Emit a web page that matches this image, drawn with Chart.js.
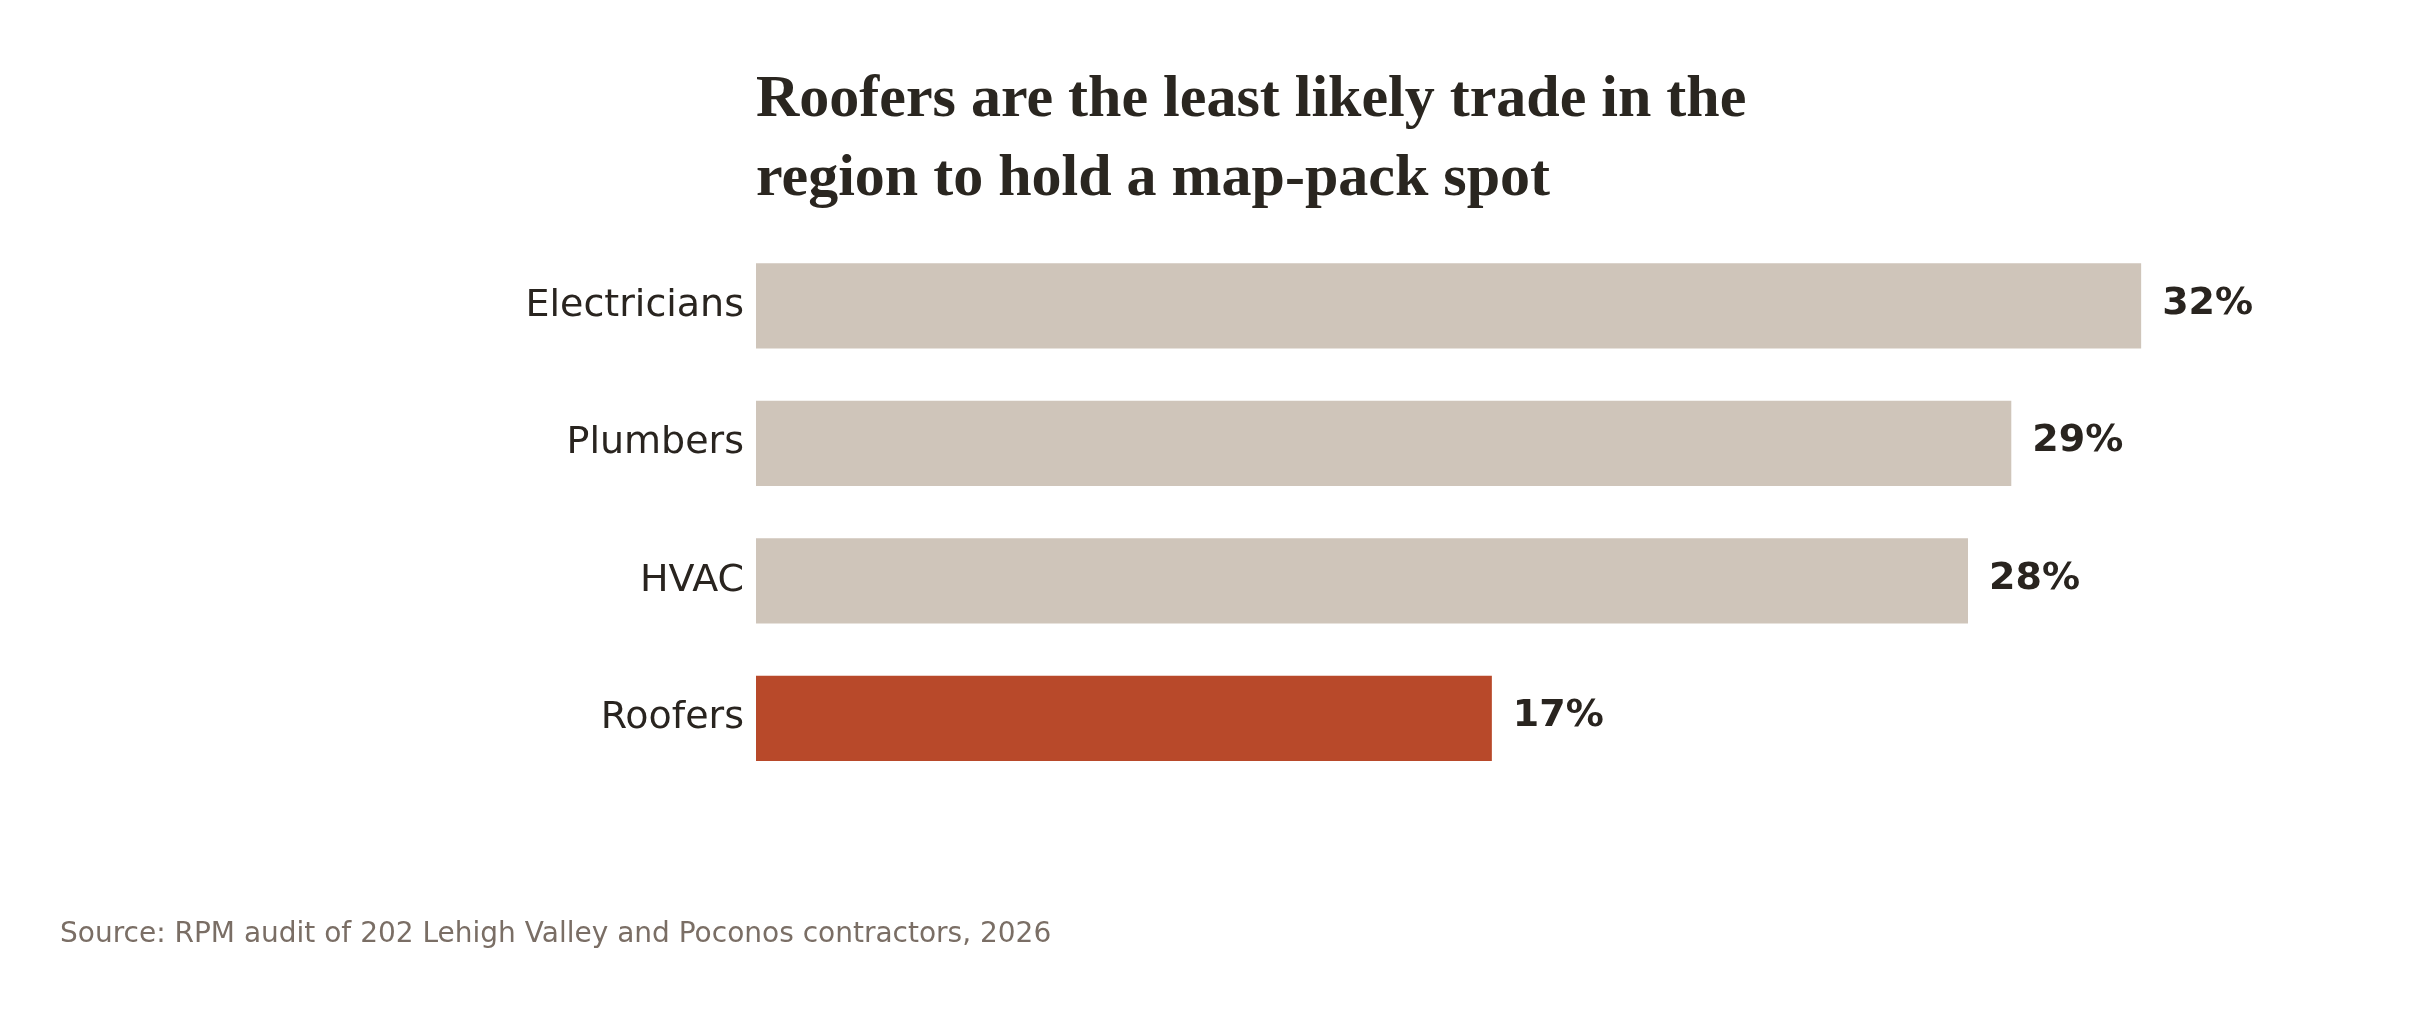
<!DOCTYPE html>
<html>
<head>
<meta charset="utf-8">
<script src="https://cdn.jsdelivr.net/npm/chart.js@4"></script>
<style>
  html, body { margin: 0; padding: 0; background: #ffffff; }
  #wrap { width: 2424px; height: 1010px; }
</style>
</head>
<body>
<div id="wrap"><canvas id="myChart" width="2424" height="1010"></canvas></div>
<script>
var trades = ['Electricians', 'Plumbers', 'HVAC', 'Roofers'];
var shares = [32, 29, 28, 17];
var barColors = ['#cfc5ba', '#cfc5ba', '#cfc5ba', '#b8492a'];
var titleLines = ['Roofers are the least likely trade in the', 'region to hold a map-pack spot'];
var sourceText = 'Source: RPM audit of 202 Lehigh Valley and Poconos contractors, 2026';

// value labels at the end of each bar + title and source line
var textPlugin = {
    id: 'textPlugin',
    afterDatasetsDraw: function (chart) {
        var ctx = chart.ctx;
        var meta = chart.getDatasetMeta(0);
        ctx.save();
        ctx.fillStyle = '#29241f';
        ctx.font = 'bold 38px "DejaVu Sans"';
        ctx.textAlign = 'left';
        ctx.textBaseline = 'middle';
        meta.data.forEach(function (bar, i) {
            ctx.fillText(shares[i] + '%', bar.x + 21, bar.y - 2);
        });

        ctx.font = 'bold 60px "Liberation Serif"';
        ctx.textBaseline = 'alphabetic';
        ctx.fillStyle = '#2a2620';
        ctx.fillText(titleLines[0], chart.chartArea.left, 116);
        ctx.fillText(titleLines[1], chart.chartArea.left, 195);

        ctx.font = '28px "DejaVu Sans"';
        ctx.fillStyle = '#7a6e65';
        ctx.fillText(sourceText, 60, 942);
        ctx.restore();
    }
};

new Chart(document.getElementById('myChart'), {
    type: 'bar',
    data: {
        labels: trades,
        datasets: [
            {
                data: shares,
                backgroundColor: barColors,
                borderWidth: 0,
                barPercentage: 0.62,
                categoryPercentage: 1.0
            }
        ]
    },
    options: {
        indexAxis: 'y',
        responsive: false,
        animation: false,
        devicePixelRatio: 1,
        layout: {
            padding: {top: 237, bottom: 223, left: 0, right: 153}
        },
        plugins: {
            legend: {display: false},
            title: {display: false},
            tooltip: {enabled: false}
        },
        scales: {
            x: {
                display: false,
                min: 0,
                max: 35
            },
            y: {
                grid: {display: false},
                border: {display: false},
                ticks: {
                    color: '#29241f',
                    padding: 4,
                    font: {family: '"DejaVu Sans"', size: 38}
                },
                afterFit: function (scale) {
                    scale.width = 756;
                }
            }
        }
    },
    plugins: [textPlugin]
});
</script>
</body>
</html>
